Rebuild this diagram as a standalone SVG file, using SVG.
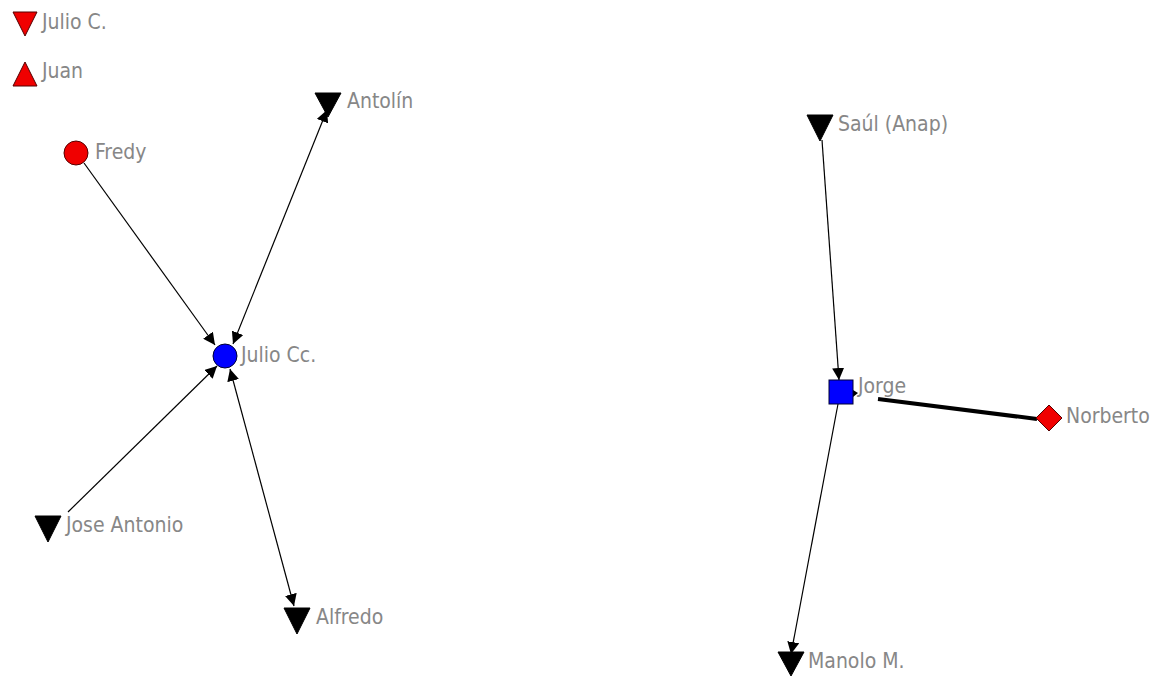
<svg xmlns="http://www.w3.org/2000/svg" width="1164" height="676" viewBox="0 0 1164 676">
<style>
text{font-family:"DejaVu Sans Condensed","DejaVu Sans","Liberation Sans",sans-serif;font-size:21px;fill:#878787}
.e{stroke:#000;stroke-width:1.2;fill:none}
.k{fill:#000;stroke:#000;stroke-width:1}
.r{fill:#f00000;stroke:#500;stroke-width:1}
.b{fill:#0000ff;stroke:#000033;stroke-width:1}
</style>
<defs>
<marker id="ah" viewBox="0 0 10 10" refX="10" refY="5" markerWidth="12" markerHeight="12" markerUnits="userSpaceOnUse" orient="auto-start-reverse">
<path d="M0,0 L10,5 L0,10 z" fill="#000"/>
</marker>
<clipPath id="cl"><rect x="0" y="0" width="1150" height="676"/></clipPath>
</defs>
<rect width="1164" height="676" fill="#fff"/>
<g id="connectors">
<line class="e" x1="84" y1="163" x2="215" y2="345" marker-end="url(#ah)"/>
<line class="e" x1="233" y1="344" x2="327" y2="110" marker-start="url(#ah)" marker-end="url(#ah)"/>
<line class="e" x1="68" y1="512" x2="217" y2="366" marker-end="url(#ah)"/>
<line class="e" x1="230" y1="369" x2="294" y2="606" marker-start="url(#ah)" marker-end="url(#ah)"/>
<line class="e" x1="822" y1="140" x2="839" y2="380" marker-end="url(#ah)"/>
<line class="e" x1="838" y1="404" x2="791" y2="654" marker-end="url(#ah)"/>
<line stroke="#000" stroke-width="4" x1="878" y1="399" x2="1037" y2="419"/>
<path d="M853,390 L858,393 L853,397 z" fill="#000"/>
</g>
<g id="n-julioc"><path class="r" d="M13,12 L37,12 L25,36 z"/><text x="42" y="29">Julio C.</text></g>
<g id="n-juan"><path class="r" d="M13,86 L37,86 L25,62 z"/><text x="42" y="78">Juan</text></g>
<g id="n-fredy"><circle class="r" cx="76" cy="153" r="12"/><text x="95" y="159">Fredy</text></g>
<g id="n-antolin"><path class="k" d="M315,93 L341,93 L328,117 z"/><text x="347" y="108">Antolín</text></g>
<g id="n-juliocc"><circle class="b" cx="225" cy="356" r="12"/><text x="241" y="362">Julio Cc.</text></g>
<g id="n-jose"><path class="k" d="M35,516 L61,516 L48,542 z"/><text x="66" y="532">Jose Antonio</text></g>
<g id="n-alfredo"><path class="k" d="M284,608 L310,608 L297,634 z"/><text x="316" y="624">Alfredo</text></g>
<g id="n-saul"><path class="k" d="M807,115 L833,115 L820,141 z"/><text x="838" y="131">Saúl (Anap)</text></g>
<g id="n-jorge"><rect class="b" x="829" y="380" width="24" height="24"/><text x="858" y="393">Jorge</text></g>
<g id="n-norberto"><path class="r" d="M1049,405 L1062,418 L1049,431 L1036,418 z"/><text x="1066" y="423" clip-path="url(#cl)">Norberto</text></g>
<g id="n-manolo"><path class="k" d="M778,652 L804,652 L791,676 z"/><text x="808" y="668">Manolo M.</text></g>
</svg>
